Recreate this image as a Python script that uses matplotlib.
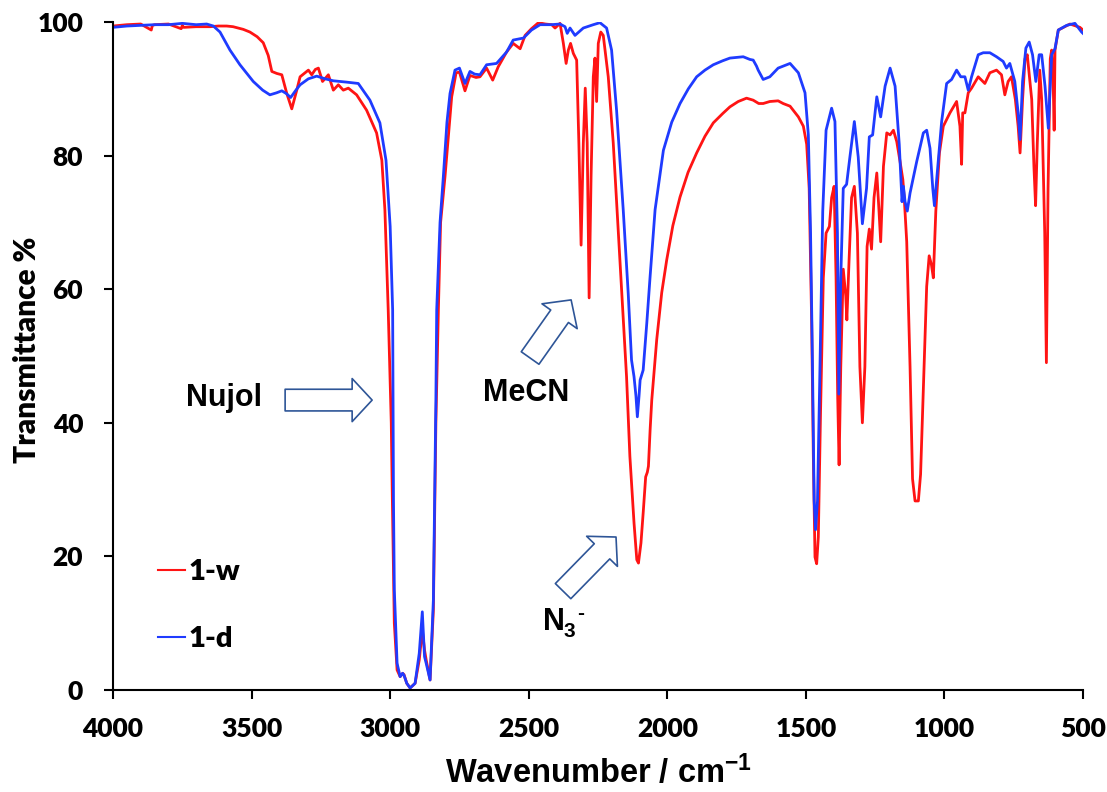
import matplotlib
matplotlib.use('Agg')
import matplotlib.pyplot as plt
from matplotlib.patches import FancyArrowPatch
import numpy as np

plt.rcParams['font.family'] = ['Lato', 'DejaVu Sans']
plt.rcParams['font.weight'] = 'heavy'
plt.rcParams['axes.labelweight'] = 'heavy'
plt.rcParams['mathtext.fontset'] = 'custom'
plt.rcParams['mathtext.rm'] = 'Liberation Sans:bold'
plt.rcParams['mathtext.bf'] = 'Liberation Sans:bold'
plt.rcParams['mathtext.default'] = 'bf'

# 1-w (red) spectrum
wn_w = [4000, 3950, 3900, 3862, 3858, 3850, 3800, 3754, 3750, 3745, 3700, 3650, 3620,
        3590, 3567, 3530, 3506, 3480, 3458, 3440, 3427, 3409, 3391, 3373, 3355, 3337,
        3325, 3295, 3283, 3270, 3259, 3244, 3223, 3205, 3187, 3169, 3151, 3121, 3085,
        3049, 3030, 3019, 3007, 2996, 2992, 2985, 2975, 2964, 2955, 2950, 2940, 2928,
        2910, 2895, 2884, 2876, 2870, 2856, 2844, 2835, 2826, 2818, 2802, 2778, 2762,
        2750, 2730, 2712, 2690, 2676, 2652, 2630, 2610, 2580, 2556, 2531, 2513, 2490,
        2465, 2440, 2417, 2405, 2387, 2375, 2365, 2357, 2349, 2339, 2327, 2319, 2311,
        2303, 2296, 2289, 2282, 2275, 2267, 2261, 2255, 2249, 2240, 2231, 2213, 2195,
        2171, 2147, 2135, 2120, 2110, 2104, 2095, 2087, 2078, 2072, 2068, 2062, 2056,
        2050, 2038, 2020, 2002, 1980, 1954, 1925, 1894, 1864, 1834, 1800, 1774, 1744,
        1714, 1690, 1670, 1654, 1630, 1600, 1582, 1557, 1527, 1509, 1497, 1488, 1479,
        1473, 1467, 1461, 1455, 1447, 1437, 1427, 1415, 1407, 1398, 1391, 1385, 1380,
        1374, 1365, 1356, 1352, 1344, 1335, 1325, 1314, 1305, 1296, 1287, 1279, 1271,
        1263, 1254, 1244, 1236, 1230, 1220, 1208, 1196, 1184, 1172, 1160, 1150, 1145,
        1136, 1124, 1115, 1106, 1094, 1086, 1076, 1064, 1055, 1047, 1040, 1031, 1018,
        1004, 980, 956, 944, 938, 934, 926, 914, 902, 878, 854, 836, 812, 794, 782, 770,
        758, 744, 734, 727, 718, 709, 701, 685, 677, 671, 665, 656, 649, 644, 638, 632,
        626, 618, 613, 608, 604, 601, 589, 547, 511, 500]
t_w = [99.4, 99.6, 99.7, 98.8, 99.5, 99.6, 99.7, 99.0, 99.5, 99.2, 99.3, 99.3, 99.4,
       99.4, 99.3, 98.9, 98.5, 97.8, 96.9, 95.0, 92.6, 92.3, 92.1, 89.3, 87.0, 89.8,
       91.8, 92.8, 92.1, 92.9, 93.1, 91.1, 92.1, 89.8, 90.6, 89.8, 90.1, 89.1, 86.8,
       83.4, 79.3, 71.9, 56.9, 40.0, 28.4, 10.0, 3.0, 2.0, 2.5, 2.3, 1.0, 0.3,
       1.0, 4.5, 9.0, 6.0, 4.5, 1.5, 12.0, 40.0, 56.9, 70.0, 76.9, 88.8, 92.4,
       92.5, 89.7, 92.0, 91.7, 91.8, 93.1, 91.3, 93.3, 95.5, 96.8, 96.0, 98.0, 99.0,
       99.9, 99.7, 99.6, 99.1, 99.8, 96.8, 93.8, 95.8, 96.8, 95.3, 94.3, 81.8, 66.6,
       81.9, 90.1, 81.9, 58.7, 76.9, 91.8, 94.6, 88.1, 96.8, 98.5, 98.0, 91.8, 81.9,
       64.4, 46.9, 35.0, 25.0, 19.5, 19.0, 22.0, 26.5, 31.9, 32.6, 33.5, 38.9, 43.4,
       46.4, 52.5, 59.5, 64.4, 69.5, 73.8, 77.5, 80.4, 82.9, 84.9, 86.3, 87.3, 88.1,
       88.6, 88.3, 87.8, 87.8, 88.1, 88.2, 87.8, 87.4, 85.8, 84.4, 81.7, 75.1, 55.0,
       35.0, 19.9, 18.9, 22.9, 41.6, 61.7, 68.4, 69.4, 73.7, 75.4, 61.7, 43.7, 33.7,
       48.4, 63.0, 59.0, 55.4, 64.4, 73.7, 75.4, 68.4, 48.4, 40.0, 48.4, 66.4, 69.0,
       66.0, 73.7, 77.4, 71.7, 67.1, 78.4, 83.4, 83.1, 83.8, 82.1, 79.1, 76.4, 73.7,
       67.1, 48.4, 31.6, 28.3, 28.3, 32.3, 45.0, 60.4, 65.0, 63.7, 61.7, 71.7, 80.4,
       84.4, 86.4, 88.1, 84.4, 78.7, 86.4, 86.4, 89.4, 90.1, 91.8, 90.8, 92.4, 92.8, 92.1, 89.1, 91.1,
       91.8, 88.4, 84.4, 80.4, 88.4, 94.5, 95.1, 88.4, 78.4, 72.5, 81.7, 92.8, 88.4, 79.1, 68.4, 49.0,
       75.1, 94.5, 95.8, 91.8, 83.8, 95.8, 98.8, 99.7, 99.2, 98.8]

# 1-d (blue) spectrum
wn_d = [4000, 3950, 3900, 3850, 3800, 3750, 3700, 3662, 3638, 3614, 3578, 3542, 3494,
        3460, 3434, 3410, 3391, 3375, 3359, 3340, 3325, 3295, 3265, 3235, 3205, 3157,
        3115, 3073, 3037, 3015, 3000, 2991, 2988, 2985, 2975, 2964, 2955, 2950, 2940,
        2928, 2910, 2895, 2884, 2876, 2870, 2856, 2844, 2835, 2832, 2820, 2808, 2795,
        2784, 2766, 2750, 2730, 2712, 2695, 2676, 2652, 2616, 2580, 2556, 2519, 2490,
        2459, 2420, 2387, 2369, 2361, 2351, 2333, 2303, 2267, 2243, 2219, 2201, 2183,
        2159, 2141, 2129, 2120, 2113, 2108, 2102, 2098, 2087, 2074, 2062, 2044, 2014,
        1984, 1954, 1924, 1894, 1864, 1834, 1800, 1774, 1726, 1702, 1690, 1678, 1672,
        1654, 1630, 1600, 1557, 1527, 1503, 1491, 1483, 1476, 1470, 1465, 1458, 1449,
        1439, 1427, 1407, 1395, 1386, 1381, 1374, 1365, 1353, 1341, 1325, 1311, 1296,
        1281, 1271, 1259, 1244, 1230, 1214, 1196, 1178, 1163, 1153, 1148, 1142, 1134,
        1124, 1100, 1076, 1064, 1052, 1042, 1036, 1028, 1010, 992, 974, 956, 941, 926,
        914, 902, 878, 860, 836, 812, 788, 776, 764, 746, 734, 727, 718, 706, 694, 682,
        670, 658, 649, 637, 625, 613, 601, 589, 559, 529, 505, 500]
t_d = [99.2, 99.4, 99.5, 99.6, 99.6, 99.8, 99.6, 99.7, 99.4, 98.5, 95.8, 93.6, 91.1,
       89.8, 89.1, 89.4, 89.7, 89.3, 88.7, 89.8, 90.6, 91.5, 91.9, 91.5, 91.2, 91.0,
       90.8, 88.3, 84.9, 79.3, 69.4, 56.9, 28.4, 15.0, 4.0, 2.0, 2.5, 2.2, 1.0,
       0.3, 1.0, 5.5, 11.7, 5.0, 4.0, 1.5, 13.5, 43.4, 56.9, 70.0, 76.9, 85.0,
       89.3, 92.8, 93.1, 90.8, 92.6, 92.2, 92.1, 93.6, 93.8, 95.5, 97.3, 97.6, 98.8,
       99.6, 99.6, 99.7, 99.3, 98.3, 99.1, 98.0, 99.1, 99.6, 99.9, 99.1, 95.8, 86.8,
       71.9, 59.4, 49.4, 46.9, 44.0, 40.9, 44.0, 46.4, 47.9, 54.9, 61.9, 71.9, 80.8,
       85.0, 87.8, 90.0, 91.8, 92.8, 93.6, 94.2, 94.6, 94.8, 94.4, 94.3, 93.4, 92.8,
       91.4, 91.8, 93.1, 93.8, 92.4, 89.4, 83.1, 68.4, 48.4, 28.3, 24.0, 28.3, 48.4,
       71.7, 83.8, 87.1, 85.1, 68.4, 44.3, 61.7, 75.1, 75.7, 79.8, 85.1, 79.8, 69.8,
       75.1, 82.8, 83.1, 88.8, 85.8, 90.4, 93.1, 90.4, 81.7, 73.1, 75.4, 73.1, 71.7,
       74.4, 79.1, 83.4, 83.8, 81.1, 75.1, 72.5, 76.4, 85.1, 90.8, 91.4, 92.8, 91.8, 91.8,
       89.8, 91.8, 95.1, 95.4, 95.4, 94.8, 94.1, 93.1, 93.8, 91.1, 86.4, 82.4, 91.1, 96.1, 97.0, 95.1,
       91.1, 95.1, 95.1, 90.4, 84.1, 95.1, 96.0, 98.8, 99.5, 99.8, 98.5, 98.3]

x_ticks = [4000, 3500, 3000, 2500, 2000, 1500, 1000, 500]
y_ticks = [0, 20, 40, 60, 80, 100]

red = '#FF1414'
blue = '#1F3BFF'
arrow_col = '#2E5597'
arial = ['Liberation Sans', 'DejaVu Sans']

fig = plt.figure(figsize=(11.07, 7.92), dpi=100)
ax = fig.add_axes([0.1021, 0.1288, 0.8762, 0.8434])

ax.plot(wn_w, t_w, color=red, lw=2.0, label='1-w', solid_joinstyle='round')
ax.plot(wn_d, t_d, color=blue, lw=2.0, label='1-d', solid_joinstyle='round')

ax.set_xlim(4000, 500)
ax.set_ylim(0, 100)
ax.set_xticks(x_ticks)
ax.set_yticks(y_ticks)
ax.tick_params(direction='out', length=6.5, width=1.5, labelsize=19)
ax.tick_params(axis='x', pad=13)
ax.tick_params(axis='y', pad=15)
for s in ['top', 'right']:
    ax.spines[s].set_visible(False)
for s in ['left', 'bottom']:
    ax.spines[s].set_linewidth(1.5)

ax.set_xlabel(r'Wavenumber / cm$^{-1}$', fontsize=23.5, fontweight='bold',
              family=arial, labelpad=10)
ax.set_ylabel('Transmittance %', fontsize=21.5, fontweight='heavy', va='center')
ax.yaxis.set_label_coords(-0.089, 0.51)

leg = ax.legend(loc='upper left', bbox_to_anchor=(0.046, 0.196), frameon=False,
                fontsize=21, handlelength=0.95, handletextpad=0.1, labelspacing=1.4,
                borderpad=0, borderaxespad=0)
for h in leg.get_lines():
    h.set_linewidth(1.5)

# annotations
ax.text(3599, 43.7, 'Nujol', fontsize=22, fontweight='bold', family=arial,
        ha='center', va='center')
ax.text(2510, 44.5, 'MeCN', fontsize=22, fontweight='bold', family=arial,
        ha='center', va='center')
for s, dx, dy, fs in [('N', 0, 0, 22), ('3', 14.4, -4.8, 15), ('-', 24.5, 7.9, 15)]:
    ax.annotate(s, xy=(2448, 9.0), xytext=(dx, dy), textcoords='offset points',
                fontsize=fs, fontweight='bold', family=arial, ha='left', va='baseline')

arrow_style = 'simple,head_length=0.72,head_width=1.55,tail_width=0.78'
for start, end in [((3379, 43.4), (3065, 43.4)),
                   ((2495, 49.7), (2347, 58.4)),
                   ((2376, 14.8), (2185, 22.9))]:
    ax.add_patch(FancyArrowPatch(start, end, arrowstyle=arrow_style, mutation_scale=20,
                                 facecolor='white', edgecolor=arrow_col, lw=1.2,
                                 shrinkA=0, shrinkB=0, zorder=5))

fig.savefig('out.png', dpi=100)
